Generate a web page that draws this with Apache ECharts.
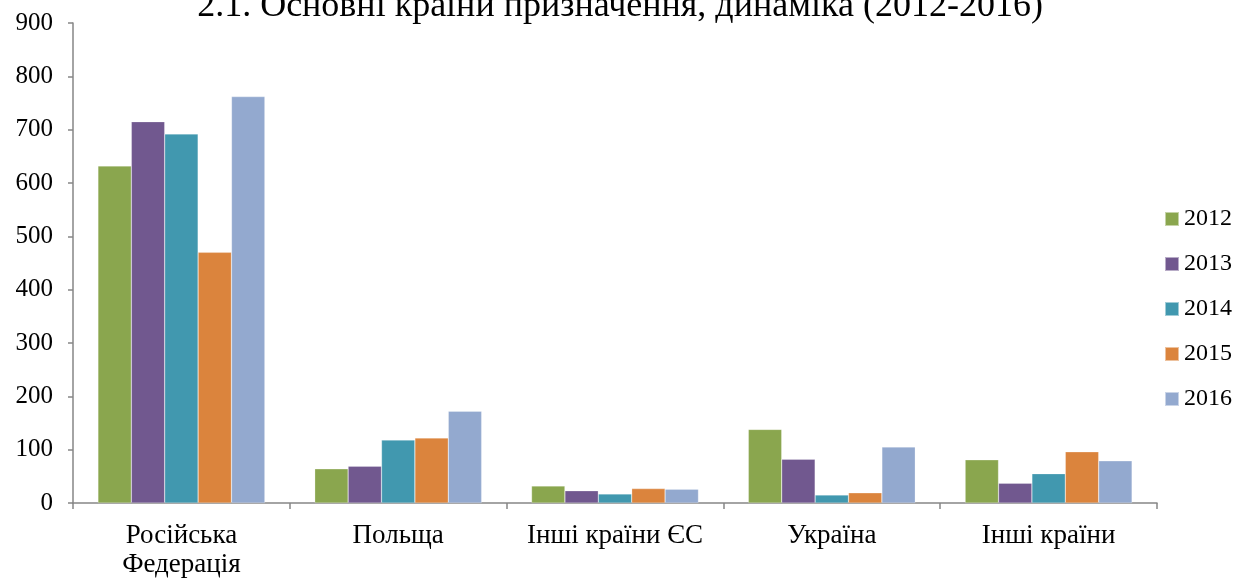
<!DOCTYPE html>
<html>
<head>
<meta charset="utf-8">
<script src="https://cdn.jsdelivr.net/npm/echarts@6/dist/echarts.min.js"></script>
<style>
html,body{margin:0;padding:0;background:#fff;}
#chart{width:1240px;height:579px;}
</style>
</head>
<body>
<div id="chart"></div>
<script>
// Основні країни призначення 2012-2016
var countries = ['Російська\nФедерація', 'Польща', 'Інші країни ЄС', 'Україна', 'Інші країни'];
var years = ['2012', '2013', '2014', '2015', '2016'];
var v2012 = [632, 64, 32, 138, 81];
var v2013 = [715, 69, 23, 82, 37];
var v2014 = [692, 118, 17, 15, 55];
var v2015 = [470, 122, 27, 19, 96];
var v2016 = [762, 172, 26, 105, 79];
var yTicks = [0, 100, 200, 300, 400, 500, 600, 700, 800, 900];

var colors = ['#8AA64E', '#71588F', '#4198AF', '#DB843D', '#93A9CF'];
var allVals = [v2012, v2013, v2014, v2015, v2016];
var serif = '"Liberation Serif", "Times New Roman", serif';

var myChart = echarts.init(document.getElementById('chart'));

var series = [];
for (var i = 0; i < years.length; i++) {
    series.push({
        name: years[i],
        type: 'bar',
        data: allVals[i],
        barGap: '0%',
        barCategoryGap: '23%',
        itemStyle: {color: colors[i], borderColor: 'rgba(255,255,255,0.5)', borderWidth: 0.5}
    });
}

var option = {
    animation: false,
    color: colors,
    title: {
        text: '2.1. Основні країни призначення, динаміка (2012-2016)',
        left: 'center',
        top: -16,
        textStyle: {fontFamily: serif, fontSize: 36, fontWeight: 'normal', color: '#000'}
    },
    legend: {
        orient: 'vertical',
        left: 1159,
        top: 202,
        itemWidth: 14,
        itemHeight: 14,
        itemGap: 21,
        icon: 'rect',
        data: years,
        textStyle: {fontFamily: serif, fontSize: 24, lineHeight: 24, color: '#000'}
    },
    grid: {left: 73, right: 83, top: 23, bottom: 74},
    xAxis: {
        type: 'category',
        data: countries,
        axisLine: {lineStyle: {color: '#868686', width: 1.5}},
        axisTick: {show: true, interval: 0, length: 6, lineStyle: {color: '#868686', width: 1.5}},
        axisLabel: {interval: 0, fontFamily: serif, fontSize: 27, color: '#000', margin: 18, lineHeight: 29}
    },
    yAxis: {
        type: 'value',
        min: yTicks[0],
        max: yTicks[yTicks.length - 1],
        interval: 100,
        axisLine: {show: true, lineStyle: {color: '#868686', width: 1.5}},
        axisTick: {show: true, length: 5, lineStyle: {color: '#868686', width: 1.5}},
        splitLine: {show: false},
        axisLabel: {
            margin: 20,
            formatter: '{t|{value}}',
            rich: {t: {fontFamily: serif, fontSize: 25, color: '#000'}}
        }
    },
    series: series
};

myChart.setOption(option);
</script>
</body>
</html>
